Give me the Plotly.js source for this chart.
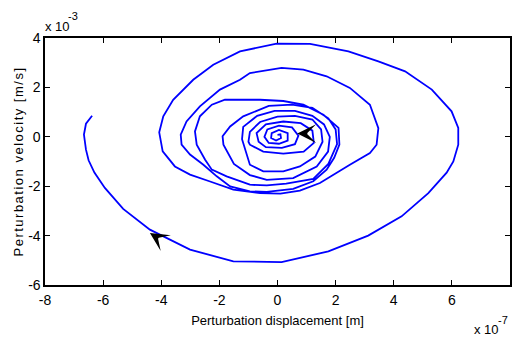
<!DOCTYPE html>
<html>
<head>
<meta charset="utf-8">
<script src="https://cdn.plot.ly/plotly-3.0.1.min.js"></script>
<style>
  html, body { margin: 0; padding: 0; background: #fff; }
  #chart { width: 513px; height: 338px; }
  .ytitle { letter-spacing: 1.5px; }
</style>
</head>
<body>
<div id="chart"></div>
<script>
// Trajectory, x in units of 1e-7 m, y in units of 1e-3 m/s (as shown by the axis multipliers)
const displacement = [
  -6.38,-6.59,-6.66,-6.59,-6.50,-6.30,-5.94,-5.31,-4.39,-3.01,-1.52,0.14,1.75,3.12,4.27,5.19,5.82,6.05,6.22,6.22,5.99,5.31,4.39,3.47,2.44,1.12,-0.03,-1.29,-2.21,-2.90,-3.59,-3.93,-4.07,-3.95,
  -3.53,-3.01,-2.32,-1.52,-0.60,0.10,0.77,1.46,2.49,3.18,3.41,3.47,3.18,2.49,1.69,0.89,0.14,-0.95,-1.29,-1.98,-2.67,-3.13,-3.33,-3.30,
  -3.01,-2.55,-2.09,-1.63,-0.95,-0.37,0.54,1.23,1.69,1.95,2.13,2.10,1.58,0.89,0.20,-0.60,-1.81,-2.26,-2.67,-2.84,-2.78,
  -2.49,-2.26,-1.75,-0.95,-0.37,0.30,1.23,1.75,2.05,2.00,1.75,1.20,0.50,-0.30,-0.60,-1.18,-1.63,-1.89,-1.86,
  -1.50,-0.95,-0.37,0.54,1.35,1.74,1.80,1.60,1.20,0.60,-0.10,-0.70,-1.18,-1.22,
  -1.10,-0.95,-0.49,0.20,0.77,1.30,1.55,1.50,1.20,0.60,0.00,-0.60,-0.95,-1.00,
  -0.95,-0.49,0.20,0.90,1.25,1.20,0.80,0.20,-0.40,-0.72,-0.65,
  -0.40,0.15,0.60,0.72,0.50,0.05,-0.35,-0.45,-0.30,
  0.05,0.35,0.35,0.05,-0.20,-0.22,-0.05,0.12,0.10,0.00
];
const velocity = [
  0.85,0.53,0.09,-0.52,-0.95,-1.45,-2.07,-2.92,-3.76,-4.57,-5.04,-5.07,-4.64,-4.00,-3.22,-2.28,-1.45,-1.00,-0.32,0.36,1.03,1.91,2.65,3.05,3.46,3.76,3.77,3.46,2.92,2.31,1.50,0.83,0.18,-0.59,
  -1.20,-1.53,-1.81,-2.14,-2.28,-2.30,-2.18,-1.87,-1.13,-0.66,-0.32,0.35,1.30,1.98,2.45,2.72,2.79,2.58,2.31,1.91,1.23,0.62,0.09,-0.32,
  -0.72,-1.13,-1.60,-2.01,-2.21,-2.23,-2.11,-1.80,-1.33,-0.85,-0.32,0.36,0.89,1.30,1.45,1.50,1.50,1.30,0.83,0.22,-0.32,
  -0.93,-1.33,-1.60,-1.94,-1.97,-1.90,-1.70,-1.10,-0.30,0.30,0.75,1.17,1.30,1.25,1.10,0.83,0.42,0.02,-0.32,
  -1.10,-1.55,-1.74,-1.67,-1.20,-0.60,0.00,0.50,0.85,1.05,1.05,0.85,0.40,-0.10,
  -0.60,-1.13,-1.40,-1.40,-1.20,-0.80,-0.20,0.30,0.70,0.85,0.82,0.60,0.20,-0.20,
  -0.32,-0.60,-0.68,-0.60,-0.25,0.25,0.55,0.62,0.50,0.15,-0.20,
  -0.42,-0.45,-0.30,0.05,0.38,0.45,0.30,0.00,-0.25,
  -0.28,-0.15,0.15,0.28,0.15,-0.05,-0.15,-0.05,0.10,0.08
];

// Direction arrows: tip position (data units) and pixel offset of the tail
const arrowX = [-4.39, 0.68];
const arrowY = [-3.89, 0.13];
const arrowTailDX = [7, 8];
const arrowTailDY = [4.5, 0];

const xTickVals = [-8, -6, -4, -2, 0, 2, 4, 6, 8];
const xTickText = ['-8', '-6', '-4', '-2', '0', '2', '4', '6', '8'];
const yTickVals = [-6, -4, -2, 0, 2, 4];
const yTickText = ['-6', '-4', '-2', '0', '2', '4'];

const xLabel = 'Perturbation displacement [m]';
const yLabel = 'Perturbation velocity [m/s]';
const xMultiplier = ['x 10', '-7'];
const yMultiplier = ['x 10', '-3'];

const FONT = 'Liberation Sans, Arial, sans-serif';

const trace = {
  x: displacement,
  y: velocity,
  type: 'scatter',
  mode: 'lines',
  line: { color: '#0000ff', width: 1.8 },
  hoverinfo: 'skip'
};

const annotations = arrowX.map((ax, i) => ({
  x: ax, y: arrowY[i], xref: 'x', yref: 'y',
  ax: arrowTailDX[i], ay: arrowTailDY[i],
  showarrow: true, arrowhead: 3, arrowsize: 2.1, arrowwidth: 1.5,
  arrowcolor: '#000', text: ''
}));

annotations.push(
  { xref: 'paper', yref: 'paper', x: 0, y: 1, xanchor: 'left', yanchor: 'bottom',
    xshift: -1, yshift: 3, borderpad: 0, text: yMultiplier[0], showarrow: false,
    font: { family: FONT, size: 13, color: '#000' } },
  { xref: 'paper', yref: 'paper', x: 0, y: 1, xanchor: 'left', yanchor: 'bottom',
    xshift: 22, yshift: 15, borderpad: 0, text: yMultiplier[1], showarrow: false,
    font: { family: FONT, size: 11, color: '#000' } },
  { xref: 'paper', yref: 'paper', x: 1, y: 0, xanchor: 'right', yanchor: 'bottom',
    xshift: -10, yshift: -53, borderpad: 0, text: xMultiplier[0], showarrow: false,
    font: { family: FONT, size: 13, color: '#000' } },
  { xref: 'paper', yref: 'paper', x: 1, y: 0, xanchor: 'right', yanchor: 'top',
    xshift: -1, yshift: -28, borderpad: 0, text: xMultiplier[1], showarrow: false,
    font: { family: FONT, size: 11, color: '#000' } }
);

const axisCommon = {
  showgrid: false, zeroline: false,
  showline: true, linecolor: '#000', linewidth: 1.6, mirror: 'allticks',
  ticks: 'inside', ticklen: 5, tickwidth: 1, tickcolor: '#000',
  tickmode: 'array',
  tickfont: { family: FONT, size: 14, color: '#000' },
  fixedrange: true
};

const layout = {
  width: 513, height: 338,
  margin: { l: 45, r: 3, t: 38, b: 53 },
  paper_bgcolor: '#fff', plot_bgcolor: '#fff',
  showlegend: false,
  xaxis: Object.assign({}, axisCommon, {
    range: [-8, 8], tickvals: xTickVals, ticktext: xTickText,
    ticklabelstandoff: 2,
    title: { text: xLabel, font: { family: FONT, size: 13, color: '#000' }, standoff: 8 }
  }),
  yaxis: Object.assign({}, axisCommon, {
    range: [-6, 4], tickvals: yTickVals, ticktext: yTickText,
    ticklabelstandoff: 0,
    title: { text: yLabel, font: { family: FONT, size: 13, color: '#000' }, standoff: 1 }
  }),
  annotations: annotations
};

Plotly.newPlot('chart', [trace], layout, { displayModeBar: false, staticPlot: true });
</script>
</body>
</html>
